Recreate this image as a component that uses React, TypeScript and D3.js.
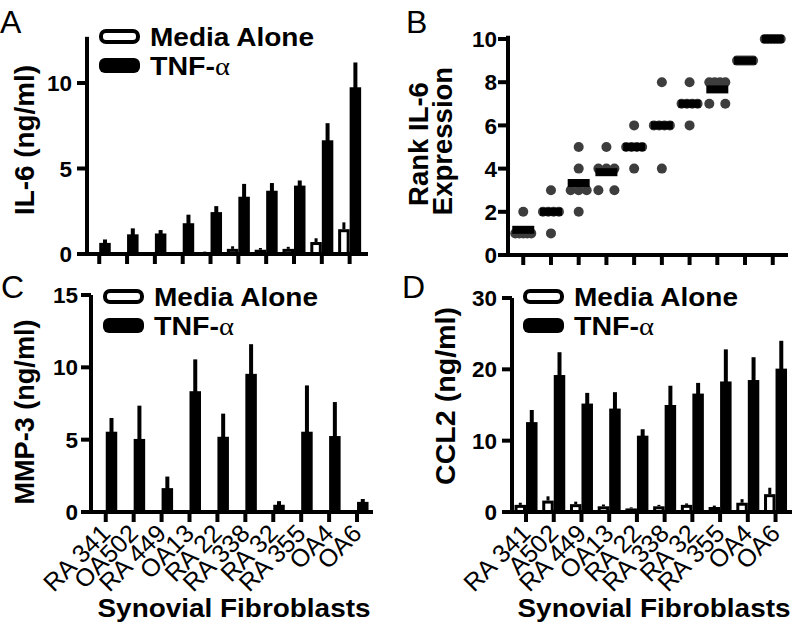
import React from "react";
import * as d3 from "d3";

// ---------- data ----------
const groupIds = ["g1", "g2", "g3", "g4", "g5", "g6", "g7", "g8", "g9", "g10"];
const labelsC = ["RA 341", "OA502", "RA 449", "OA13", "RA 22", "RA 338", "RA 32", "RA 355", "OA4", "OA6"];
const labelsD = ["RA 341", "A502", "RA 449", "OA13", "RA 22", "RA 338", "RA 32", "RA 355", "OA4", "OA6"];

const il6Media = [0.05, 0.05, 0.05, 0.05, 0.1, 0.3, 0.25, 0.3, 0.7, 1.45];
const il6MediaErr = [0.02, 0.03, 0.03, 0.03, 0.04, 0.15, 0.1, 0.12, 0.22, 0.4];
const il6Tnf = [0.65, 1.15, 1.2, 1.8, 2.45, 3.35, 3.7, 4.0, 6.65, 9.75];
const il6TnfErr = [0.2, 0.35, 0.2, 0.5, 0.35, 0.75, 0.45, 0.3, 1.0, 1.45];

const mmp3Media = [0.05, 0.03, 0.03, 0.05, 0.05, 0.05, 0.03, 0.03, 0.08, 0.05];
const mmp3MediaErr = [0.02, 0.02, 0.02, 0.02, 0.02, 0.02, 0.02, 0.02, 0.02, 0.02];
const mmp3Tnf = [5.55, 5.05, 1.65, 8.35, 5.2, 9.55, 0.5, 5.55, 5.25, 0.7];
const mmp3TnfErr = [0.95, 2.3, 0.8, 2.2, 1.6, 2.05, 0.25, 3.2, 2.35, 0.2];

const ccl2Media = [1.0, 1.6, 1.1, 0.8, 0.5, 0.8, 1.0, 0.7, 1.3, 2.5];
const ccl2MediaErr = [0.3, 0.6, 0.35, 0.25, 0.15, 0.2, 0.2, 0.2, 0.5, 0.9];
const ccl2Tnf = [12.6, 19.2, 15.2, 14.5, 10.7, 15.0, 16.6, 18.3, 18.5, 20.1];
const ccl2TnfErr = [1.7, 3.2, 1.5, 2.3, 0.9, 2.7, 1.5, 4.5, 3.2, 3.9];

const rankValues = [
  [2, 1, 1, 1, 1, 1],
  [3, 2, 2, 2, 2, 1],
  [5, 4, 3, 3, 3, 2],
  [5, 4, 4, 4, 3, 3],
  [6, 5, 5, 5, 5, 4],
  [8, 6, 6, 6, 6, 4],
  [8, 7, 7, 7, 7, 6],
  [8, 8, 8, 8, 7, 7],
  [9, 9, 9, 9, 9, 9],
  [10, 10, 10, 10, 10, 10],
];

const ticksA = [0, 5, 10];
const ticksB = [0, 2, 4, 6, 8, 10];
const ticksC = [0, 5, 10, 15];
const ticksD = [0, 10, 20, 30];

const FONT = "'Liberation Sans', Arial, Helvetica, sans-serif";

// ---------- shared pieces ----------
function YAxis({ x, y, ticks, topVal, labelGap }) {
  return (
    <g>
      <line x1={x} x2={x} y1={y(topVal)} y2={y(0) + 2} stroke="#000" strokeWidth={4} />
      {ticks.map((t) => (
        <g key={t}>
          <line x1={x - 10} x2={x} y1={y(t)} y2={y(t)} stroke="#000" strokeWidth={4} />
          <text x={x - labelGap} y={y(t)} dy="0.36em" textAnchor="end" fontFamily={FONT} fontWeight="bold" fontSize={22.5}>
            {t}
          </text>
        </g>
      ))}
    </g>
  );
}

function XAxis({ x0, x1, y0, xs }) {
  return (
    <g>
      <line x1={x0 - 2} x2={x1} y1={y0} y2={y0} stroke="#000" strokeWidth={4} />
      {xs.map((px, i) => (
        <line key={i} x1={px} x2={px} y1={y0} y2={y0 + 10} stroke="#000" strokeWidth={4} />
      ))}
    </g>
  );
}

function Legend({ x, y }) {
  return (
    <g fontFamily={FONT} fontWeight="bold">
      <rect x={x + 2} y={y + 2} width={37} height={11} rx={5} fill="#fff" stroke="#000" strokeWidth={4} />
      <text x={x + 51} y={y + 17} fontSize={25} textLength={164} lengthAdjust="spacingAndGlyphs">Media Alone</text>
      <rect x={x} y={y + 29} width={41} height={15} rx={6} fill="#000" />
      <text x={x + 51} y={y + 46} fontSize={25} textLength={80} lengthAdjust="spacingAndGlyphs">
        TNF-<tspan fontFamily="'Liberation Serif', 'DejaVu Serif', serif" fontWeight="normal">α</tspan>
      </text>
    </g>
  );
}

function BarPanel({ x0, x1, yTop, yBase, tickTop, axisTop, ticks, media, mediaErr, tnf, tnfErr, align, labelGap, legendX, legendY, title, titleX, titleY, titleLen, letter, letterX, letterY, xLabels }) {
  const x = d3.scalePoint().domain(groupIds).range([x0, x1]).padding(0.55).align(align);
  const y = d3.scaleLinear().domain([0, tickTop]).range([yBase, yTop]);
  const bw = 11.5;
  const xs = groupIds.map((g) => x(g));
  return (
    <g>
      <text x={letterX} y={letterY} fontFamily={FONT} fontSize={32}>{letter}</text>
      <text transform={`translate(${titleX},${titleY}) rotate(-90)`} textAnchor="middle" fontFamily={FONT} fontWeight="bold" fontSize={27.5} textLength={titleLen} lengthAdjust="spacingAndGlyphs">
        {title}
      </text>
      {groupIds.map((g, i) => {
        const cx = x(g);
        const mTop = y(media[i]);
        const tTop = y(tnf[i]);
        return (
          <g key={g}>
            <line x1={cx - bw / 2} x2={cx - bw / 2} y1={y(media[i] + mediaErr[i])} y2={mTop} stroke="#000" strokeWidth={3} />
            <rect x={cx - bw + 1.5} y={mTop + 1.5} width={bw - 3} height={Math.max(0, yBase - mTop - 1.5)} fill="#fff" stroke="#000" strokeWidth={3} />
            <line x1={cx + bw / 2} x2={cx + bw / 2} y1={y(tnf[i] + tnfErr[i])} y2={tTop + 2} stroke="#000" strokeWidth={4} />
            <rect x={cx} y={tTop} width={bw} height={yBase - tTop} fill="#000" />
          </g>
        );
      })}
      <YAxis x={x0} y={y} ticks={ticks} topVal={axisTop} labelGap={labelGap} />
      <XAxis x0={x0} x1={x1} y0={yBase} xs={xs} />
      <Legend x={legendX} y={legendY} />
      {xLabels &&
        xLabels.map((lab, i) => (
          <text key={i} transform={`translate(${xs[i] + 6},${yBase + 23}) rotate(-45)`} textAnchor="end" fontFamily={FONT} fontSize={25}>
            {lab}
          </text>
        ))}
      {xLabels && (
        <text x={(x0 + x1) / 2 + 2} y={617} textAnchor="middle" fontFamily={FONT} fontWeight="bold" fontSize={26} textLength={273} lengthAdjust="spacingAndGlyphs">
          Synovial Fibroblasts
        </text>
      )}
    </g>
  );
}

function RankPanel() {
  const x0 = 508, x1 = 788, yBase = 255;
  const x = d3.scalePoint().domain(groupIds).range([x0, x1]).padding(0.55).align(0.5);
  const y = d3.scaleLinear().domain([0, 10]).range([yBase, 39]);
  const xs = groupIds.map((g) => x(g));
  const pts = [];
  rankValues.forEach((vals, gi) => {
    const counts = d3.rollup(vals, (v) => v.length, (v) => v);
    counts.forEach((k, val) => {
      const spacing = k === 1 ? 0 : k === 2 ? 16 : 16 / (k - 1);
      for (let j = 0; j < k; j++) {
        pts.push({ cx: xs[gi] + (j - (k - 1) / 2) * spacing, cy: y(val), key: `${gi}-${val}-${j}` });
      }
    });
  });
  const means = rankValues.map((v) => d3.mean(v));
  return (
    <g>
      <text x={406} y={33} fontFamily={FONT} fontSize={32}>B</text>
      <text transform={`translate(428,144) rotate(-90)`} textAnchor="middle" fontFamily={FONT} fontWeight="bold" fontSize={27.5}>Rank IL-6</text>
      <text transform={`translate(452,141) rotate(-90)`} textAnchor="middle" fontFamily={FONT} fontWeight="bold" fontSize={27.5}>Expression</text>
      {pts.map((p) => (
        <circle key={p.key} cx={p.cx} cy={p.cy} r={5} fill="#3d3d3d" />
      ))}
      {means.map((m, i) => (
        <rect key={i} x={xs[i] - 11} y={y(m) - 4} width={22} height={8} fill="#000" />
      ))}
      <YAxis x={x0} y={y} ticks={ticksB} topVal={10.15} labelGap={11} />
      <XAxis x0={x0} x1={x1} y0={yBase} xs={xs} />
    </g>
  );
}

export default function App() {
  return (
    <svg width={796} height={630} style={{ position: "absolute", left: 0, top: 0, background: "#fff" }}>
      <rect width={796} height={630} fill="#fff" />
      <BarPanel
        x0={87} x1={368} yTop={83} yBase={254} tickTop={10} axisTop={12.7} ticks={ticksA}
        media={il6Media} mediaErr={il6MediaErr} tnf={il6Tnf} tnfErr={il6TnfErr}
        align={0.4} labelGap={15} legendX={99} legendY={29}
        title="IL-6 (ng/ml)" titleX={34} titleY={140} titleLen={150}
        letter="A" letterX={0} letterY={33}
      />
      <RankPanel />
      <BarPanel
        x0={91} x1={373} yTop={295} yBase={512} tickTop={15} axisTop={15} ticks={ticksC}
        media={mmp3Media} mediaErr={mmp3MediaErr} tnf={mmp3Tnf} tnfErr={mmp3TnfErr}
        align={0.48} labelGap={13} legendX={103} legendY={289}
        title="MMP-3 (ng/ml)" titleX={34} titleY={412} titleLen={185}
        letter="C" letterX={1} letterY={298} xLabels={labelsC}
      />
      <BarPanel
        x0={512} x1={792} yTop={298} yBase={512} tickTop={30} axisTop={30} ticks={ticksD}
        media={ccl2Media} mediaErr={ccl2MediaErr} tnf={ccl2Tnf} tnfErr={ccl2TnfErr}
        align={0.46} labelGap={15} legendX={523} legendY={289}
        title="CCL2 (ng/ml)" titleX={455} titleY={396} titleLen={178}
        letter="D" letterX={402} letterY={298} xLabels={labelsD}
      />
    </svg>
  );
}
